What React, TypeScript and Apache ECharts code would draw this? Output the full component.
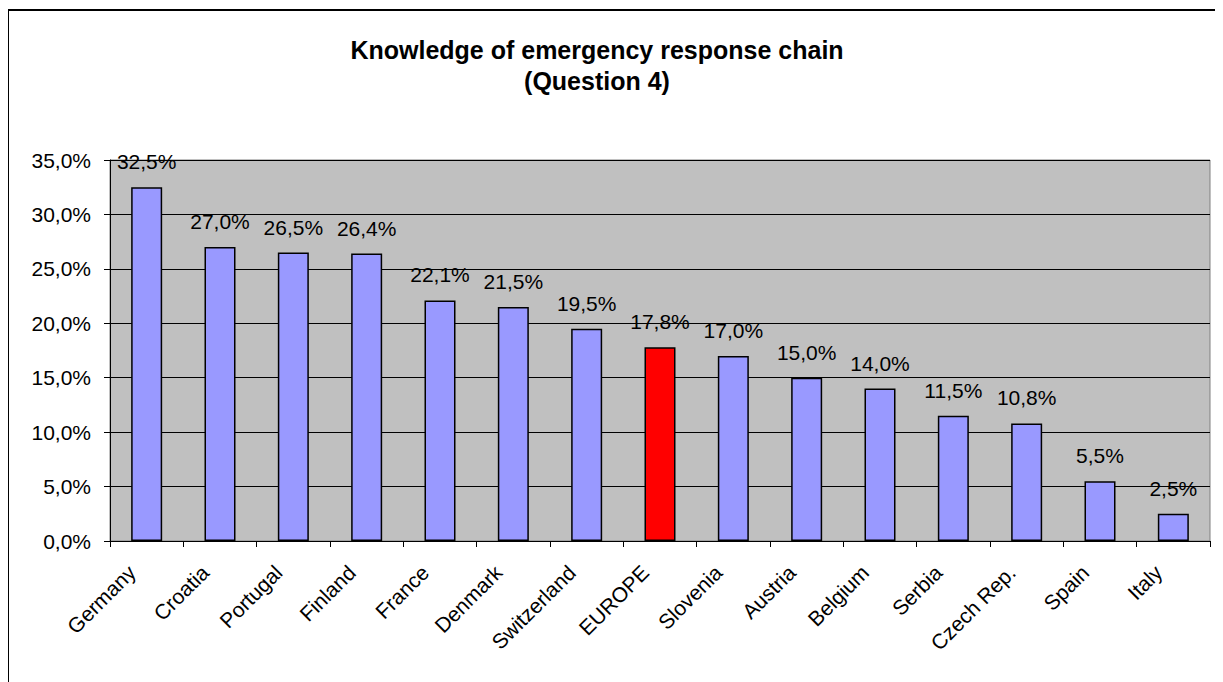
import React, { useEffect, useRef } from "react";
import * as echarts from "echarts";

const categories = ["Germany", "Croatia", "Portugal", "Finland", "France", "Denmark", "Switzerland", "EUROPE", "Slovenia", "Austria", "Belgium", "Serbia", "Czech Rep.", "Spain", "Italy"];
const values = [32.5, 27.0, 26.5, 26.4, 22.1, 21.5, 19.5, 17.8, 17.0, 15.0, 14.0, 11.5, 10.8, 5.5, 2.5];
const highlight = "EUROPE";
const yTicks = { min: 0, max: 35, interval: 5 };
const titleLines = ["Knowledge of emergency response chain", "(Question 4)"];

const FONT = "'Liberation Sans', Arial, sans-serif";
const fmt = (v: number) => v.toFixed(1).replace(".", ",") + "%";

export default function App() {
  const ref = useRef<HTMLDivElement>(null);
  useEffect(() => {
    if (!ref.current) return;
    const chart = echarts.init(ref.current, undefined, { renderer: "svg" });
    chart.setOption({
      animation: false,
      backgroundColor: "#ffffff",
      textStyle: { fontFamily: FONT },
      graphic: [
        {
          type: "rect",
          shape: { x: 0, y: 2, width: 1400, height: 900 },
          style: { fill: "none", stroke: "#000", lineWidth: 2 },
          silent: true,
          z: 100,
        },
        {
          type: "text",
          x: 589,
          y: 42,
          silent: true,
          style: {
            text: titleLines[0],
            fontFamily: FONT,
            fontWeight: "bold",
            fontSize: 25,
            fill: "#000",
            align: "center",
            verticalAlign: "middle",
          },
        },
        {
          type: "text",
          x: 589,
          y: 73,
          silent: true,
          style: {
            text: titleLines[1],
            fontFamily: FONT,
            fontWeight: "bold",
            fontSize: 25,
            fill: "#000",
            align: "center",
            verticalAlign: "middle",
          },
        },
      ],
      grid: {
        left: 102,
        right: 13,
        top: 152,
        bottom: 141,
        show: true,
        backgroundColor: "#C0C0C0",
        borderColor: "#808080",
        borderWidth: 1,
      },
      xAxis: {
        type: "category",
        data: categories,
        boundaryGap: true,
        axisLine: { show: true, lineStyle: { color: "#000", width: 1 } },
        axisTick: { show: true, alignWithLabel: false, length: 6, lineStyle: { color: "#000" } },
        axisLabel: {
          rotate: 45,
          interval: 0,
          margin: 13,
          padding: [0, 21, 0, 0],
          color: "#000",
          fontSize: 21,
          fontFamily: FONT,
        },
        splitLine: { show: false },
      },
      yAxis: {
        type: "value",
        min: yTicks.min,
        max: yTicks.max,
        interval: yTicks.interval,
        axisLine: { show: true, lineStyle: { color: "#000", width: 1 } },
        axisTick: { show: true, length: 6, lineStyle: { color: "#000" } },
        axisLabel: {
          color: "#000",
          fontSize: 21,
          fontFamily: FONT,
          margin: 19,
          formatter: (v: number) => fmt(v),
        },
        splitLine: { show: true, lineStyle: { color: "#000", width: 1 } },
      },
      series: [
        {
          type: "bar",
          barWidth: 31,
          data: values.map((v, i) => ({
            value: v,
            itemStyle: {
              color: categories[i] === highlight ? "#FF0000" : "#9999FF",
              borderColor: "#000",
              borderWidth: 1.5,
            },
          })),
          label: {
            show: true,
            position: "top",
            distance: 15,
            color: "#000",
            fontSize: 21,
            fontFamily: FONT,
            formatter: (p: any) => fmt(p.value),
          },
        },
      ],
    });
    return () => chart.dispose();
  }, []);
  return <div ref={ref} style={{ width: 1215, height: 674 }} />;
}
